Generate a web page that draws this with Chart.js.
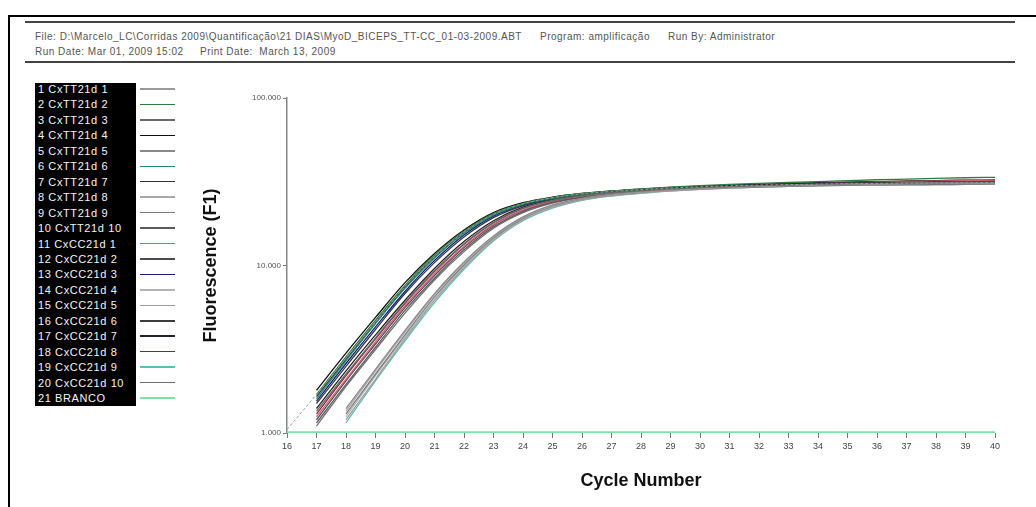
<!DOCTYPE html>
<html>
<head>
<meta charset="utf-8">
<script src="https://cdn.jsdelivr.net/npm/chart.js@4.4.1/dist/chart.umd.min.js"></script>
<style>
    body { margin: 0; background: #fff; width: 1036px; height: 507px; overflow: hidden; position: relative; font-family: Arial, "Liberation Sans", sans-serif; }
    .frame-top { position: absolute; left: 8px; top: 15px; width: 1028px; height: 2px; background: #000; }
    .frame-left { position: absolute; left: 8px; top: 15px; width: 2px; height: 492px; background: #000; }
    .rule { position: absolute; left: 25px; width: 990px; height: 2px; background: #444; }
    .hdr { position: absolute; font-size: 10px; letter-spacing: 0.5px; color: #555; white-space: pre; }
    #legend { position: absolute; left: 35px; top: 83px; width: 101px; height: 323px; background: #000; }
    .lg-text { position: absolute; left: 3px; color: #f4f4f4; font-size: 11px; letter-spacing: 0.6px; line-height: 12px; white-space: pre; }
    .lg-line { position: absolute; left: 140px; width: 35px; height: 1.5px; }
    #chart { position: absolute; left: 0; top: 0; }
</style>
</head>
<body>
<div class="frame-top"></div>
<div class="frame-left"></div>
<div class="rule" style="top:21px"></div>
<div class="rule" style="top:61px"></div>
<div class="hdr" style="left:35px;top:31px">File: D:\Marcelo_LC\Corridas 2009\Quantificação\21 DIAS\MyoD_BICEPS_TT-CC_01-03-2009.ABT</div>
<div class="hdr" style="left:540px;top:31px">Program: amplificação</div>
<div class="hdr" style="left:668px;top:31px">Run By: Administrator</div>
<div class="hdr" style="left:35px;top:46px">Run Date: Mar 01, 2009 15:02</div>
<div class="hdr" style="left:200px;top:46px">Print Date:  March 13, 2009</div>
<div id="legend"></div>
<div id="legend-lines"></div>
<canvas id="chart" width="1036" height="507"></canvas>

<script>
// cycles on the x axis
const cycles = [16, 17, 18, 19, 20, 21, 22, 23, 24, 25, 26, 27, 28, 29, 30, 31, 32, 33, 34, 35, 36, 37, 38, 39, 40];

// y axis ticks (log scale)
const yTicks = [1000, 10000, 100000];
const yTickLabels = ['1.000', '10.000', '100.000'];

// fluorescence per sample, CxTT21d
const tt1 = [1050, 1700, 2800, 4600, 7500, 11300, 15800, 20200, 23400, 25400, 26800, 27700, 28400, 29000, 29500, 29900, 30200, 30400, 30600, 30800, 30900, 31000, 31100, 31200, 31300];
const tt2 = [null, 1700, 2850, 4700, 7600, 11500, 16000, 20400, 23500, 25500, 26900, 27900, 28700, 29400, 30000, 30500, 30900, 31300, 31700, 32100, 32500, 32800, 33100, 33400, 33600];
const tt3 = [null, 1350, 2250, 3700, 6000, 9300, 13500, 18100, 22000, 24500, 26100, 27200, 28000, 28700, 29200, 29600, 30000, 30300, 30600, 30800, 31000, 31200, 31300, 31400, 31500];
const tt4 = [null, 1800, 3000, 4900, 7900, 11800, 16300, 20700, 23700, 25600, 26900, 27800, 28500, 29100, 29600, 30000, 30300, 30600, 30800, 31000, 31200, 31300, 31400, 31500, 31600];
const tt5 = [null, null, 1400, 2400, 4100, 6800, 10500, 15000, 19500, 23000, 25200, 26600, 27600, 28400, 29000, 29500, 29900, 30200, 30500, 30700, 30900, 31000, 31100, 31200, 31300];
const tt6 = [null, 1600, 2700, 4500, 7300, 11100, 15600, 20000, 23200, 25200, 26600, 27600, 28300, 28900, 29400, 29800, 30100, 30400, 30600, 30800, 31000, 31100, 31200, 31300, 31400];
const tt7 = [null, 1650, 2750, 4550, 7400, 11200, 15700, 20100, 23300, 25300, 26700, 27600, 28300, 28900, 29400, 29800, 30100, 30400, 30700, 30900, 31100, 31200, 31300, 31400, 31500];
const tt8 = [null, null, 1350, 2350, 4000, 6700, 10300, 14800, 19300, 22800, 25000, 26400, 27400, 28200, 28800, 29300, 29700, 30000, 30300, 30500, 30700, 30800, 30900, 31000, 31100];
const tt9 = [null, null, 1300, 2250, 3850, 6500, 10100, 14600, 19100, 22600, 24900, 26300, 27300, 28100, 28700, 29200, 29600, 29900, 30100, 30300, 30500, 30600, 30700, 30800, 30900];
const tt10 = [null, 1150, 1950, 3250, 5400, 8400, 12400, 17000, 21000, 23800, 25600, 26800, 27700, 28400, 28900, 29300, 29600, 29900, 30100, 30300, 30400, 30500, 30600, 30700, 30800];

// fluorescence per sample, CxCC21d
const cc1 = [null, 1250, 2100, 3500, 5750, 8900, 13000, 17600, 21500, 24100, 25800, 27000, 27900, 28600, 29200, 29700, 30100, 30500, 30800, 31100, 31400, 31700, 31900, 32100, 32300];
const cc2 = [null, 1200, 2050, 3400, 5600, 8700, 12800, 17400, 21300, 24000, 25700, 26900, 27800, 28500, 29100, 29500, 29900, 30200, 30500, 30700, 30900, 31100, 31200, 31300, 31400];
const cc3 = [null, 1550, 2600, 4300, 7000, 10700, 15200, 19700, 23000, 25200, 26700, 27800, 28600, 29300, 29800, 30200, 30500, 30700, 30900, 31000, 31100, 31200, 31300, 31300, 31400];
const cc4 = [null, null, 1250, 2200, 3750, 6300, 9900, 14400, 18900, 22400, 24700, 26200, 27200, 28000, 28600, 29100, 29500, 29800, 30000, 30200, 30300, 30400, 30500, 30600, 30700];
const cc5 = [null, null, 1200, 2100, 3650, 6200, 9700, 14200, 18700, 22200, 24600, 26100, 27100, 27900, 28500, 29000, 29400, 29700, 29900, 30100, 30200, 30300, 30400, 30500, 30600];
const cc6 = [null, 1500, 2500, 4150, 6800, 10400, 14800, 19300, 22700, 25000, 26500, 27500, 28300, 28900, 29400, 29800, 30100, 30300, 30500, 30700, 30800, 30900, 31000, 31100, 31200];
const cc7 = [null, 1400, 2350, 3850, 6200, 9600, 13900, 18500, 22300, 24700, 26300, 27400, 28300, 29000, 29600, 30100, 30500, 30900, 31200, 31500, 31700, 31900, 32100, 32200, 32300];
const cc8 = [null, 1300, 2200, 3650, 5950, 9200, 13400, 18000, 21900, 24400, 26000, 27200, 28100, 28800, 29400, 29900, 30300, 30700, 31000, 31300, 31600, 31900, 32100, 32300, 32400];
const cc9 = [null, null, 1150, 2050, 3550, 6000, 9500, 14000, 18500, 22000, 24500, 26000, 27000, 27800, 28500, 29000, 29400, 29700, 30000, 30200, 30300, 30400, 30500, 30600, 30700];
const cc10 = [null, 1100, 1900, 3150, 5200, 8200, 12100, 16700, 20700, 23600, 25400, 26600, 27500, 28200, 28700, 29100, 29400, 29700, 29900, 30100, 30200, 30300, 30400, 30500, 30600];

// blank (no template)
const branco = [1010, 1010, 1010, 1010, 1010, 1010, 1010, 1010, 1010, 1010, 1010, 1010, 1010, 1010, 1010, 1010, 1010, 1010, 1010, 1010, 1010, 1010, 1010, 1010, 1010];

const seriesLabels = [
    '1 CxTT21d 1', '2 CxTT21d 2', '3 CxTT21d 3', '4 CxTT21d 4', '5 CxTT21d 5',
    '6 CxTT21d 6', '7 CxTT21d 7', '8 CxTT21d 8', '9 CxTT21d 9', '10 CxTT21d 10',
    '11 CxCC21d 1', '12 CxCC21d 2', '13 CxCC21d 3', '14 CxCC21d 4', '15 CxCC21d 5',
    '16 CxCC21d 6', '17 CxCC21d 7', '18 CxCC21d 8', '19 CxCC21d 9', '20 CxCC21d 10',
    '21 BRANCO'
];
const seriesData = [tt1, tt2, tt3, tt4, tt5, tt6, tt7, tt8, tt9, tt10,
    cc1, cc2, cc3, cc4, cc5, cc6, cc7, cc8, cc9, cc10, branco];
const seriesColors = [
    '#9a9a9a', '#2f7d3a', '#6a6a6a', '#111111', '#8a8a8a',
    '#1f8a78', '#333333', '#a8a8a8', '#7c7c7c', '#5b5b5b',
    '#d0607a', '#4a4a5a', '#1b1b80', '#b4b4b4', '#9c9c9c',
    '#3c3c3c', '#242424', '#8e2030', '#5cc0b0', '#707070',
    '#7ee2a4'
];

// legend box on the left
const legendBox = document.getElementById('legend');
const legendLines = document.getElementById('legend-lines');
seriesLabels.forEach((label, i) => {
    const y = 89 + i * 15.45;
    const t = document.createElement('div');
    t.className = 'lg-text';
    t.style.top = (y - 83 - 6) + 'px';
    t.textContent = label;
    legendBox.appendChild(t);
    const l = document.createElement('div');
    l.className = 'lg-line';
    l.style.top = (y - 0.75) + 'px';
    l.style.background = seriesColors[i];
    legendLines.appendChild(l);
});

const datasets = seriesData.map((arr, i) => ({
    label: seriesLabels[i],
    data: cycles.map((c, j) => ({ x: c, y: arr[j] })),
    borderColor: seriesColors[i],
    borderWidth: i === 20 ? 2 : (i === 0 ? 1 : 1.3),
    borderDash: i === 0 ? [3, 2] : [],
    pointRadius: 0,
    cubicInterpolationMode: 'monotone',
    spanGaps: false,
    fill: false
}));

new Chart(document.getElementById('chart'), {
    type: 'line',
    data: { datasets },
    options: {
        responsive: false,
        animation: false,
        devicePixelRatio: 1,
        layout: { padding: { left: 190, top: 98, right: 41, bottom: 8 } },
        plugins: { legend: { display: false }, tooltip: { enabled: false } },
        scales: {
            x: {
                type: 'linear', min: 16, max: 40,
                ticks: { stepSize: 1, color: '#444', font: { size: 9 }, padding: 3, maxRotation: 0, autoSkip: false },
                grid: { drawOnChartArea: false, tickLength: 5, color: '#777' },
                border: { display: false },
                title: { display: true, text: 'Cycle Number', color: '#111', font: { size: 18, weight: 'bold', family: 'Arial' }, padding: { top: 0, bottom: 7 } },
                afterFit: (s) => { s.height = 66; }
            },
            y: {
                type: 'logarithmic', min: 1000, max: 100000,
                afterBuildTicks: (s) => { s.ticks = yTicks.map(v => ({ value: v })); },
                ticks: { color: '#555', font: { size: 8 }, padding: 2, callback: (v, i) => yTickLabels[i] },
                grid: { drawOnChartArea: false, tickLength: 4, color: '#777' },
                border: { display: true, color: '#888', width: 1.5 },
                title: { display: true, text: 'Fluorescence (F1)', color: '#111', font: { size: 18, weight: 'bold', family: 'Arial' }, padding: { top: 10, bottom: 0 } },
                afterFit: (s) => { s.width = 97; }
            }
        }
    }
});
</script>
</body>
</html>
